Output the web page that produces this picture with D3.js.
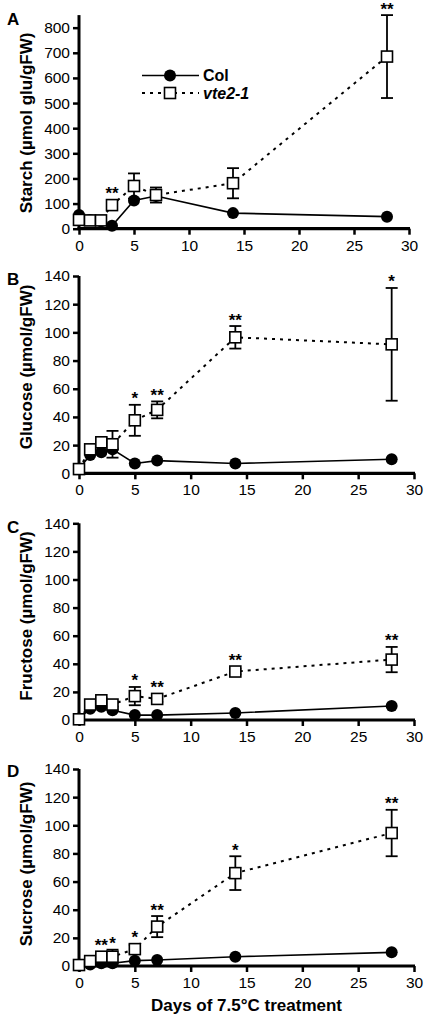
<!DOCTYPE html>
<html><head><meta charset="utf-8">
<script src="https://cdn.jsdelivr.net/npm/d3@7"></script>
<style>
body{margin:0;background:#fff;}
svg{display:block;font-family:"Liberation Sans",Arial,sans-serif;}
</style></head>
<body>
<svg id="c" width="426" height="1019"></svg>
<script>
const days = [0, 1, 2, 3, 5, 7, 14, 28];
const xTicks = [0, 5, 10, 15, 20, 25, 30];

const starchCol = [55, 35, 30, 12, 112, 130, 62, 48];
const starchColErr = [8, 5, 5, 4, 15, 10, 8, 8];
const starchVte = [35, 33, 33, 94, 170, 134, 181, 685];
const starchVteErr = [6, 5, 5, 8, 50, 30, 60, 165];
const starchStars = ["", "", "", "**", "", "", "", "**"];
const starchTicks = [0, 100, 200, 300, 400, 500, 600, 700, 800];

const glucoseCol = [3, 13, 15, 17, 7, 9, 7, 10];
const glucoseColErr = [1, 2, 2, 2, 1.5, 1.5, 1, 2];
const glucoseVte = [3, 17, 22, 20.6, 37.6, 45, 96.5, 91.5];
const glucoseVteErr = [1, 2, 3, 9.5, 11, 6, 8, 40];
const glucoseStars = ["", "", "", "", "*", "**", "**", "*"];

const fructoseCol = [1, 8, 9.5, 7, 3.5, 3.5, 5, 10];
const fructoseColErr = [0.5, 1, 1.5, 1.5, 1, 1, 1, 2];
const fructoseVte = [0.5, 11, 14, 11, 17, 15, 34.5, 43];
const fructoseVteErr = [0.5, 1, 1.5, 1.5, 6.5, 2, 2, 9];
const fructoseStars = ["", "", "", "", "*", "**", "**", "**"];

const sucroseCol = [0.3, 1, 2, 2, 3.8, 4.3, 6.6, 9.7];
const sucroseColErr = [0.3, 0.5, 0.5, 0.5, 1, 1, 1, 1.5];
const sucroseVte = [0.7, 3.5, 6.6, 6.6, 12, 28, 66, 94.5];
const sucroseVteErr = [0.5, 1, 2, 5, 3, 7.5, 12, 16.5];
const sucroseStars = ["", "", "**", "*", "*", "**", "*", "**"];

const sugarTicks = [0, 20, 40, 60, 80, 100, 120, 140];

const panels = [
  {letter:"A", title:"Starch (\u00b5mol glu/gFW)", col:starchCol, colErr:starchColErr, vte:starchVte, vteErr:starchVteErr, stars:starchStars, ticks:starchTicks, ymax:850, y0:228.7, yTop:15.1, x1:409, letterY:25, titleY:123},
  {letter:"B", title:"Glucose (\u00b5mol/gFW)", col:glucoseCol, colErr:glucoseColErr, vte:glucoseVte, vteErr:glucoseVteErr, stars:glucoseStars, ticks:sugarTicks, ymax:140, y0:473.3, yTop:276, x1:414, letterY:285, titleY:367},
  {letter:"C", title:"Fructose (\u00b5mol/gFW)", col:fructoseCol, colErr:fructoseColErr, vte:fructoseVte, vteErr:fructoseVteErr, stars:fructoseStars, ticks:sugarTicks, ymax:140, y0:720, yTop:523.3, x1:414, letterY:533, titleY:616},
  {letter:"D", title:"Sucrose (\u00b5mol/gFW)", col:sucroseCol, colErr:sucroseColErr, vte:sucroseVte, vteErr:sucroseVteErr, stars:sucroseStars, ticks:sugarTicks, ymax:140, y0:966, yTop:769, x1:414, letterY:777, titleY:864}
];

const svg = d3.select("#c");
const X0 = 79;

panels.forEach((p, pi) => {
  const x = d3.scaleLinear().domain([0, 30]).range([X0, p.x1]);
  const y = d3.scaleLinear().domain([0, p.ymax]).range([p.y0, p.yTop]);
  const g = svg.append("g");

  const xa = g.append("g").attr("transform", `translate(0,${p.y0})`)
    .call(d3.axisBottom(x).tickValues(xTicks).tickSize(6).tickSizeOuter(0).tickPadding(5));
  xa.select(".domain").attr("stroke-width", 3.2).attr("d", `M${X0-1.5},0H${p.x1+1}`);
  xa.selectAll(".tick line").attr("stroke-width", 2.5);
  xa.selectAll("text").attr("font-size", 15.5).attr("fill", "#000");

  const ya = g.append("g").attr("transform", `translate(${X0},0)`)
    .call(d3.axisLeft(y).tickValues(p.ticks).tickSize(6).tickSizeOuter(0).tickPadding(3));
  ya.select(".domain").attr("stroke-width", 3).attr("d", `M0,${p.y0+1}V${p.yTop}`);
  ya.selectAll(".tick line").attr("stroke-width", 2.5);
  ya.selectAll("text").attr("font-size", 15.5).attr("fill", "#000");

  g.append("text").attr("x", 7).attr("y", p.letterY).attr("font-size", 17).attr("font-weight", "bold").text(p.letter);
  g.append("text").attr("transform", `translate(32,${p.titleY}) rotate(-90)`)
    .attr("text-anchor", "middle").attr("font-size", 17).attr("font-weight", "bold").text(p.title);

  const line = d3.line().x((d, i) => x(days[i])).y(d => y(d));

  g.append("path").datum(p.col).attr("d", line).attr("fill", "none").attr("stroke", "#000").attr("stroke-width", 1.6);
  days.forEach((d, i) => {
    g.append("line").attr("x1", x(d)).attr("x2", x(d))
      .attr("y1", y(p.col[i] + p.colErr[i])).attr("y2", y(Math.max(0, p.col[i] - p.colErr[i])))
      .attr("stroke", "#000").attr("stroke-width", 1.6);
    g.append("circle").attr("cx", x(d)).attr("cy", y(p.col[i])).attr("r", 6).attr("fill", "#000");
  });

  g.append("path").datum(p.vte).attr("d", line).attr("fill", "none").attr("stroke", "#000")
    .attr("stroke-width", 2).attr("stroke-dasharray", "3,5");
  days.forEach((d, i) => {
    const top = y(p.vte[i] + p.vteErr[i]);
    const bot = y(Math.max(0, p.vte[i] - p.vteErr[i]));
    g.append("line").attr("x1", x(d)).attr("x2", x(d)).attr("y1", top).attr("y2", bot)
      .attr("stroke", "#000").attr("stroke-width", 1.8);
    [top, bot].forEach(yy => g.append("line").attr("x1", x(d) - 6).attr("x2", x(d) + 6)
      .attr("y1", yy).attr("y2", yy).attr("stroke", "#000").attr("stroke-width", 1.8));
    g.append("rect").attr("x", x(d) - 5.5).attr("y", y(p.vte[i]) - 5.5).attr("width", 11).attr("height", 11)
      .attr("fill", "#fff").attr("stroke", "#000").attr("stroke-width", 1.6);
    if (p.stars[i]) {
      g.append("text").attr("x", x(d)).attr("y", Math.min(top, y(p.vte[i]) - 5.5) - 0.5)
        .attr("text-anchor", "middle").attr("font-size", 17).attr("font-weight", "bold")
        .text(p.stars[i]);
    }
  });

  if (pi === 0) {
    const lg = svg.append("g");
    lg.append("line").attr("x1", 142).attr("x2", 199).attr("y1", 75.5).attr("y2", 75.5).attr("stroke", "#000").attr("stroke-width", 1.6);
    lg.append("circle").attr("cx", 170).attr("cy", 75.5).attr("r", 6).attr("fill", "#000");
    lg.append("line").attr("x1", 142).attr("x2", 199).attr("y1", 93).attr("y2", 93).attr("stroke", "#000").attr("stroke-width", 2).attr("stroke-dasharray", "3,5");
    lg.append("rect").attr("x", 164.5).attr("y", 87.5).attr("width", 11).attr("height", 11).attr("fill", "#fff").attr("stroke", "#000").attr("stroke-width", 1.6);
    lg.append("text").attr("x", 203).attr("y", 81).attr("font-size", 16).attr("font-weight", "bold").text("Col");
    lg.append("text").attr("x", 203).attr("y", 99).attr("font-size", 16).attr("font-weight", "bold").attr("font-style", "italic").text("vte2-1");
  }
});

svg.append("text").attr("x", 246.5).attr("y", 1011).attr("text-anchor", "middle")
  .attr("font-size", 17).attr("font-weight", "bold").text("Days of 7.5\u00b0C treatment");
</script>
</body></html>
